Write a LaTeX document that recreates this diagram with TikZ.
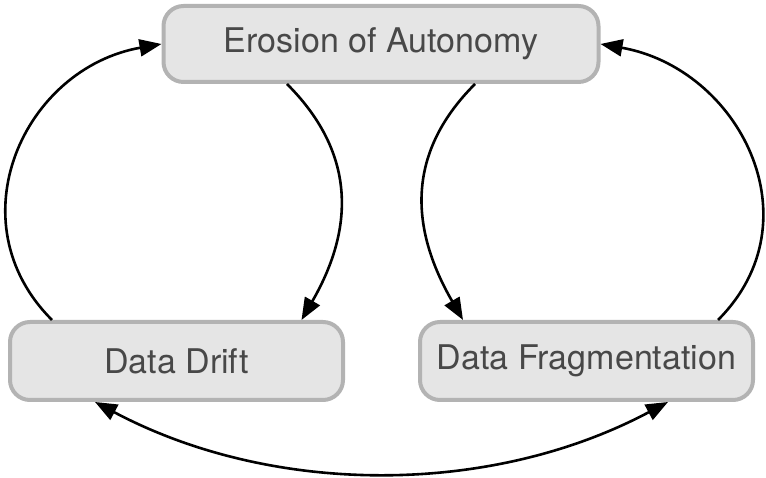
\documentclass[tikz,border=0pt]{standalone}
\usepackage{fontspec}
\setmainfont{TeX Gyre Heros}
\usetikzlibrary{arrows.meta}
\definecolor{boxfill}{HTML}{E5E5E5}
\definecolor{boxline}{HTML}{B3B3B3}
\definecolor{boxtext}{HTML}{484848}
\begin{document}
\begin{tikzpicture}[x=1pt,y=1pt,line width=2.6pt]
            \tikzstyle{box}=[rectangle,rounded corners=20pt,draw=boxline,line width=4pt,fill=boxfill,text=boxtext,minimum height=78pt,inner sep=0pt,font=\fontsize{34}{39}\selectfont]
            \tikzstyle{arr}=[-{Triangle[length=22pt,width=17pt]}]
                \useasboundingbox (0,0) rectangle (766,478);

                \node[box,minimum width=435pt,minimum height=76pt] (B-1) at (381, 434){Erosion of Autonomy};

                \node[box,minimum width=333pt] (B-2) at (176.5, 117){Data Drift};
                \node[box,minimum width=333pt] (B-3) at (586.5, 117){Data Fragmentation};

                \draw[arr] ([xshift=-124.5pt]B-2.north) to[out=135,in=190,looseness=1.2] (B-1.west);
                \draw[arr] ([xshift=-94pt]B-1.south) to[out=-45,in=60,looseness=1.1] ([xshift=125pt]B-2.north);
                \draw[arr] ([xshift=94pt]B-1.south) to[out=-135,in=120,looseness=1.1] ([xshift=-123.5pt]B-3.north);
                \draw[arr] ([xshift=131.5pt]B-3.north) to[out=45,in=-10,looseness=1.2] (B-1.east);

                \draw[{Triangle[length=22pt,width=17pt]}-{Triangle[length=22pt,width=17pt]}] ([xshift=-81.5pt]B-2.south) to[out=-28,in=-152,looseness=0.9] ([xshift=81.5pt]B-3.south);
        \end{tikzpicture}
\end{document}
